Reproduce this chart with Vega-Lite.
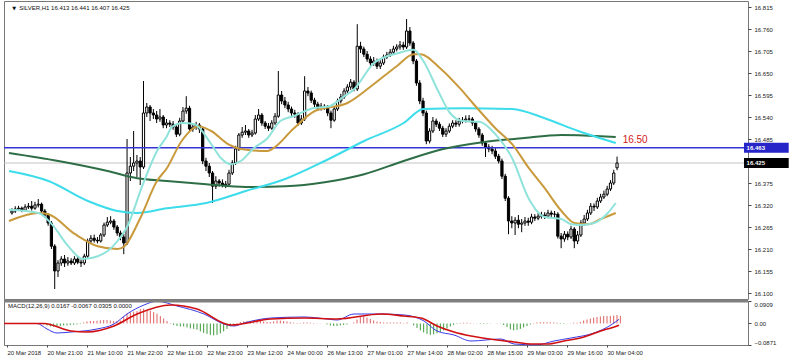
{
"$schema":"https://vega.github.io/schema/vega-lite/v6.json",
"padding":0,"background":"white","spacing":2,"bounds":"flush",
"resolve":{"scale":{"color":"independent","strokeWidth":"independent","x":"independent","y":"independent"}},
"config":{"view":{"stroke":"#777","strokeWidth":1},"font":"Liberation Sans",
"axis":{"labelFont":"Liberation Sans","labelFontSize":6,"labelColor":"#222","tickColor":"#444","grid":false,"domain":false,"labelOverlap":false}},
"datasets":{
"candles":[
{"i":0,"o":16.300,"h":16.312,"l":16.296,"c":16.305,"hist":0.002},
{"i":1,"o":16.305,"h":16.317,"l":16.300,"c":16.310,"hist":0.002},
{"i":2,"o":16.310,"h":16.318,"l":16.305,"c":16.312,"hist":0.002},
{"i":3,"o":16.312,"h":16.316,"l":16.302,"c":16.307,"hist":0.001},
{"i":4,"o":16.307,"h":16.322,"l":16.304,"c":16.315,"hist":0.002},
{"i":5,"o":16.315,"h":16.325,"l":16.310,"c":16.317,"hist":0.002},
{"i":6,"o":16.317,"h":16.330,"l":16.306,"c":16.312,"hist":0.001},
{"i":7,"o":16.312,"h":16.328,"l":16.308,"c":16.320,"hist":0.002},
{"i":8,"o":16.320,"h":16.335,"l":16.314,"c":16.322,"hist":0.002},
{"i":9,"o":16.322,"h":16.326,"l":16.300,"c":16.305,"hist":0.001},
{"i":10,"o":16.305,"h":16.310,"l":16.288,"c":16.295,"hist":-0.002},
{"i":11,"o":16.295,"h":16.300,"l":16.268,"c":16.275,"hist":-0.004},
{"i":12,"o":16.275,"h":16.280,"l":16.210,"c":16.217,"hist":-0.008},
{"i":13,"o":16.217,"h":16.222,"l":16.110,"c":16.155,"hist":-0.012},
{"i":14,"o":16.155,"h":16.182,"l":16.140,"c":16.175,"hist":-0.012},
{"i":15,"o":16.175,"h":16.192,"l":16.168,"c":16.185,"hist":-0.010},
{"i":16,"o":16.185,"h":16.195,"l":16.165,"c":16.175,"hist":-0.010},
{"i":17,"o":16.175,"h":16.190,"l":16.168,"c":16.180,"hist":-0.008},
{"i":18,"o":16.180,"h":16.187,"l":16.170,"c":16.175,"hist":-0.008},
{"i":19,"o":16.175,"h":16.192,"l":16.170,"c":16.185,"hist":-0.006},
{"i":20,"o":16.185,"h":16.190,"l":16.172,"c":16.177,"hist":-0.005},
{"i":21,"o":16.177,"h":16.184,"l":16.165,"c":16.175,"hist":-0.004},
{"i":22,"o":16.175,"h":16.198,"l":16.170,"c":16.192,"hist":-0.002},
{"i":23,"o":16.192,"h":16.236,"l":16.188,"c":16.230,"hist":0.004},
{"i":24,"o":16.230,"h":16.245,"l":16.225,"c":16.237,"hist":0.008},
{"i":25,"o":16.237,"h":16.246,"l":16.226,"c":16.232,"hist":0.010},
{"i":26,"o":16.232,"h":16.240,"l":16.224,"c":16.230,"hist":0.010},
{"i":27,"o":16.230,"h":16.250,"l":16.226,"c":16.245,"hist":0.011},
{"i":28,"o":16.245,"h":16.276,"l":16.240,"c":16.270,"hist":0.013},
{"i":29,"o":16.270,"h":16.290,"l":16.265,"c":16.277,"hist":0.014},
{"i":30,"o":16.277,"h":16.292,"l":16.272,"c":16.280,"hist":0.014},
{"i":31,"o":16.280,"h":16.285,"l":16.258,"c":16.265,"hist":0.012},
{"i":32,"o":16.265,"h":16.270,"l":16.243,"c":16.250,"hist":0.010},
{"i":33,"o":16.250,"h":16.256,"l":16.232,"c":16.240,"hist":0.010},
{"i":34,"o":16.240,"h":16.248,"l":16.197,"c":16.225,"hist":0.012},
{"i":35,"o":16.225,"h":16.485,"l":16.220,"c":16.400,"hist":0.030},
{"i":36,"o":16.400,"h":16.440,"l":16.380,"c":16.417,"hist":0.040},
{"i":37,"o":16.417,"h":16.505,"l":16.405,"c":16.425,"hist":0.045},
{"i":38,"o":16.425,"h":16.445,"l":16.390,"c":16.430,"hist":0.048},
{"i":39,"o":16.430,"h":16.440,"l":16.370,"c":16.415,"hist":0.050},
{"i":40,"o":16.415,"h":16.630,"l":16.410,"c":16.550,"hist":0.058},
{"i":41,"o":16.550,"h":16.575,"l":16.540,"c":16.565,"hist":0.060},
{"i":42,"o":16.565,"h":16.570,"l":16.530,"c":16.550,"hist":0.056},
{"i":43,"o":16.550,"h":16.560,"l":16.535,"c":16.545,"hist":0.052},
{"i":44,"o":16.545,"h":16.555,"l":16.525,"c":16.535,"hist":0.046},
{"i":45,"o":16.535,"h":16.560,"l":16.528,"c":16.540,"hist":0.040},
{"i":46,"o":16.540,"h":16.545,"l":16.512,"c":16.520,"hist":0.030},
{"i":47,"o":16.520,"h":16.535,"l":16.512,"c":16.525,"hist":0.020},
{"i":48,"o":16.525,"h":16.532,"l":16.515,"c":16.522,"hist":0.010},
{"i":49,"o":16.522,"h":16.530,"l":16.508,"c":16.515,"hist":0.002},
{"i":50,"o":16.515,"h":16.520,"l":16.490,"c":16.497,"hist":-0.006},
{"i":51,"o":16.497,"h":16.538,"l":16.492,"c":16.530,"hist":-0.010},
{"i":52,"o":16.530,"h":16.565,"l":16.525,"c":16.555,"hist":-0.012},
{"i":53,"o":16.555,"h":16.592,"l":16.548,"c":16.562,"hist":-0.012},
{"i":54,"o":16.562,"h":16.568,"l":16.505,"c":16.510,"hist":-0.016},
{"i":55,"o":16.510,"h":16.525,"l":16.503,"c":16.515,"hist":-0.020},
{"i":56,"o":16.515,"h":16.528,"l":16.508,"c":16.520,"hist":-0.022},
{"i":57,"o":16.520,"h":16.525,"l":16.500,"c":16.510,"hist":-0.025},
{"i":58,"o":16.510,"h":16.515,"l":16.422,"c":16.430,"hist":-0.032},
{"i":59,"o":16.430,"h":16.438,"l":16.405,"c":16.417,"hist":-0.038},
{"i":60,"o":16.417,"h":16.425,"l":16.390,"c":16.400,"hist":-0.042},
{"i":61,"o":16.400,"h":16.405,"l":16.325,"c":16.367,"hist":-0.046},
{"i":62,"o":16.367,"h":16.392,"l":16.360,"c":16.380,"hist":-0.048},
{"i":63,"o":16.380,"h":16.385,"l":16.366,"c":16.375,"hist":-0.046},
{"i":64,"o":16.375,"h":16.384,"l":16.364,"c":16.370,"hist":-0.040},
{"i":65,"o":16.370,"h":16.380,"l":16.362,"c":16.372,"hist":-0.032},
{"i":66,"o":16.372,"h":16.408,"l":16.368,"c":16.400,"hist":-0.022},
{"i":67,"o":16.400,"h":16.432,"l":16.395,"c":16.425,"hist":-0.012},
{"i":68,"o":16.425,"h":16.468,"l":16.420,"c":16.460,"hist":-0.004},
{"i":69,"o":16.460,"h":16.500,"l":16.455,"c":16.495,"hist":0.002},
{"i":70,"o":16.495,"h":16.515,"l":16.488,"c":16.502,"hist":0.006},
{"i":71,"o":16.502,"h":16.520,"l":16.495,"c":16.505,"hist":0.008},
{"i":72,"o":16.505,"h":16.510,"l":16.488,"c":16.495,"hist":0.010},
{"i":73,"o":16.495,"h":16.508,"l":16.490,"c":16.500,"hist":0.010},
{"i":74,"o":16.500,"h":16.545,"l":16.496,"c":16.535,"hist":0.012},
{"i":75,"o":16.535,"h":16.560,"l":16.530,"c":16.545,"hist":0.012},
{"i":76,"o":16.545,"h":16.550,"l":16.518,"c":16.525,"hist":0.010},
{"i":77,"o":16.525,"h":16.530,"l":16.510,"c":16.517,"hist":0.008},
{"i":78,"o":16.517,"h":16.525,"l":16.505,"c":16.512,"hist":0.006},
{"i":79,"o":16.512,"h":16.532,"l":16.508,"c":16.525,"hist":0.006},
{"i":80,"o":16.525,"h":16.550,"l":16.520,"c":16.542,"hist":0.008},
{"i":81,"o":16.542,"h":16.655,"l":16.538,"c":16.595,"hist":0.012},
{"i":82,"o":16.595,"h":16.605,"l":16.572,"c":16.580,"hist":0.012},
{"i":83,"o":16.580,"h":16.590,"l":16.562,"c":16.570,"hist":0.010},
{"i":84,"o":16.570,"h":16.578,"l":16.552,"c":16.560,"hist":0.008},
{"i":85,"o":16.560,"h":16.566,"l":16.542,"c":16.550,"hist":0.005},
{"i":86,"o":16.550,"h":16.558,"l":16.538,"c":16.547,"hist":0.003},
{"i":87,"o":16.547,"h":16.552,"l":16.518,"c":16.525,"hist":0.002},
{"i":88,"o":16.525,"h":16.545,"l":16.520,"c":16.535,"hist":0.002},
{"i":89,"o":16.535,"h":16.642,"l":16.530,"c":16.605,"hist":0.004},
{"i":90,"o":16.605,"h":16.615,"l":16.592,"c":16.600,"hist":0.004},
{"i":91,"o":16.600,"h":16.606,"l":16.575,"c":16.582,"hist":0.003},
{"i":92,"o":16.582,"h":16.588,"l":16.565,"c":16.572,"hist":0.002},
{"i":93,"o":16.572,"h":16.578,"l":16.555,"c":16.562,"hist":0.001},
{"i":94,"o":16.562,"h":16.575,"l":16.556,"c":16.567,"hist":0.001},
{"i":95,"o":16.567,"h":16.572,"l":16.558,"c":16.565,"hist":0.000},
{"i":96,"o":16.565,"h":16.570,"l":16.542,"c":16.550,"hist":-0.004},
{"i":97,"o":16.550,"h":16.556,"l":16.512,"c":16.532,"hist":-0.008},
{"i":98,"o":16.532,"h":16.566,"l":16.528,"c":16.560,"hist":-0.010},
{"i":99,"o":16.560,"h":16.586,"l":16.555,"c":16.580,"hist":-0.010},
{"i":100,"o":16.580,"h":16.598,"l":16.574,"c":16.590,"hist":-0.008},
{"i":101,"o":16.590,"h":16.612,"l":16.585,"c":16.605,"hist":-0.006},
{"i":102,"o":16.605,"h":16.622,"l":16.598,"c":16.615,"hist":-0.004},
{"i":103,"o":16.615,"h":16.635,"l":16.608,"c":16.627,"hist":0.000},
{"i":104,"o":16.627,"h":16.632,"l":16.604,"c":16.610,"hist":0.004},
{"i":105,"o":16.610,"h":16.772,"l":16.605,"c":16.717,"hist":0.016},
{"i":106,"o":16.717,"h":16.728,"l":16.700,"c":16.710,"hist":0.026},
{"i":107,"o":16.710,"h":16.716,"l":16.690,"c":16.697,"hist":0.028},
{"i":108,"o":16.697,"h":16.705,"l":16.678,"c":16.685,"hist":0.024},
{"i":109,"o":16.685,"h":16.692,"l":16.668,"c":16.675,"hist":0.018},
{"i":110,"o":16.675,"h":16.690,"l":16.668,"c":16.680,"hist":0.012},
{"i":111,"o":16.680,"h":16.686,"l":16.660,"c":16.667,"hist":0.008},
{"i":112,"o":16.667,"h":16.682,"l":16.660,"c":16.675,"hist":0.006},
{"i":113,"o":16.675,"h":16.696,"l":16.670,"c":16.690,"hist":0.004},
{"i":114,"o":16.690,"h":16.703,"l":16.685,"c":16.695,"hist":0.004},
{"i":115,"o":16.695,"h":16.710,"l":16.690,"c":16.702,"hist":0.004},
{"i":116,"o":16.702,"h":16.718,"l":16.697,"c":16.710,"hist":0.004},
{"i":117,"o":16.710,"h":16.722,"l":16.704,"c":16.715,"hist":0.004},
{"i":118,"o":16.715,"h":16.730,"l":16.708,"c":16.720,"hist":0.004},
{"i":119,"o":16.720,"h":16.728,"l":16.708,"c":16.715,"hist":0.002},
{"i":120,"o":16.715,"h":16.785,"l":16.710,"c":16.755,"hist":0.004},
{"i":121,"o":16.755,"h":16.765,"l":16.718,"c":16.725,"hist":0.000},
{"i":122,"o":16.725,"h":16.730,"l":16.672,"c":16.680,"hist":-0.008},
{"i":123,"o":16.680,"h":16.685,"l":16.618,"c":16.625,"hist":-0.018},
{"i":124,"o":16.625,"h":16.632,"l":16.572,"c":16.580,"hist":-0.028},
{"i":125,"o":16.580,"h":16.588,"l":16.542,"c":16.550,"hist":-0.036},
{"i":126,"o":16.550,"h":16.556,"l":16.472,"c":16.480,"hist":-0.042},
{"i":127,"o":16.480,"h":16.512,"l":16.474,"c":16.505,"hist":-0.046},
{"i":128,"o":16.505,"h":16.540,"l":16.500,"c":16.530,"hist":-0.044},
{"i":129,"o":16.530,"h":16.536,"l":16.515,"c":16.522,"hist":-0.040},
{"i":130,"o":16.522,"h":16.528,"l":16.505,"c":16.512,"hist":-0.034},
{"i":131,"o":16.512,"h":16.518,"l":16.490,"c":16.497,"hist":-0.028},
{"i":132,"o":16.497,"h":16.512,"l":16.490,"c":16.505,"hist":-0.020},
{"i":133,"o":16.505,"h":16.524,"l":16.500,"c":16.517,"hist":-0.012},
{"i":134,"o":16.517,"h":16.532,"l":16.512,"c":16.525,"hist":-0.006},
{"i":135,"o":16.525,"h":16.532,"l":16.515,"c":16.522,"hist":-0.002},
{"i":136,"o":16.522,"h":16.538,"l":16.516,"c":16.530,"hist":0.002},
{"i":137,"o":16.530,"h":16.540,"l":16.524,"c":16.532,"hist":0.003},
{"i":138,"o":16.532,"h":16.544,"l":16.526,"c":16.535,"hist":0.003},
{"i":139,"o":16.535,"h":16.545,"l":16.527,"c":16.535,"hist":0.002},
{"i":140,"o":16.535,"h":16.540,"l":16.518,"c":16.525,"hist":0.001},
{"i":141,"o":16.525,"h":16.530,"l":16.503,"c":16.510,"hist":-0.001},
{"i":142,"o":16.510,"h":16.515,"l":16.488,"c":16.495,"hist":-0.002},
{"i":143,"o":16.495,"h":16.500,"l":16.468,"c":16.475,"hist":-0.002},
{"i":144,"o":16.475,"h":16.480,"l":16.440,"c":16.465,"hist":-0.002},
{"i":145,"o":16.465,"h":16.472,"l":16.452,"c":16.460,"hist":-0.001},
{"i":146,"o":16.460,"h":16.468,"l":16.447,"c":16.455,"hist":0.000},
{"i":147,"o":16.455,"h":16.462,"l":16.435,"c":16.442,"hist":0.001},
{"i":148,"o":16.442,"h":16.448,"l":16.424,"c":16.430,"hist":-0.001},
{"i":149,"o":16.430,"h":16.436,"l":16.385,"c":16.392,"hist":-0.006},
{"i":150,"o":16.392,"h":16.398,"l":16.330,"c":16.337,"hist":-0.014},
{"i":151,"o":16.337,"h":16.342,"l":16.247,"c":16.280,"hist":-0.024},
{"i":152,"o":16.280,"h":16.292,"l":16.262,"c":16.275,"hist":-0.028},
{"i":153,"o":16.275,"h":16.290,"l":16.245,"c":16.282,"hist":-0.026},
{"i":154,"o":16.282,"h":16.295,"l":16.262,"c":16.272,"hist":-0.022},
{"i":155,"o":16.272,"h":16.285,"l":16.252,"c":16.275,"hist":-0.016},
{"i":156,"o":16.275,"h":16.290,"l":16.268,"c":16.280,"hist":-0.010},
{"i":157,"o":16.280,"h":16.288,"l":16.268,"c":16.277,"hist":-0.004},
{"i":158,"o":16.277,"h":16.298,"l":16.272,"c":16.290,"hist":0.002},
{"i":159,"o":16.290,"h":16.297,"l":16.280,"c":16.287,"hist":0.004},
{"i":160,"o":16.287,"h":16.300,"l":16.282,"c":16.292,"hist":0.005},
{"i":161,"o":16.292,"h":16.303,"l":16.286,"c":16.295,"hist":0.005},
{"i":162,"o":16.295,"h":16.302,"l":16.285,"c":16.292,"hist":0.005},
{"i":163,"o":16.292,"h":16.308,"l":16.287,"c":16.300,"hist":0.005},
{"i":164,"o":16.300,"h":16.306,"l":16.290,"c":16.297,"hist":0.004},
{"i":165,"o":16.297,"h":16.305,"l":16.288,"c":16.297,"hist":0.003},
{"i":166,"o":16.297,"h":16.302,"l":16.236,"c":16.242,"hist":-0.002},
{"i":167,"o":16.242,"h":16.250,"l":16.212,"c":16.235,"hist":-0.002},
{"i":168,"o":16.235,"h":16.255,"l":16.228,"c":16.247,"hist":0.000},
{"i":169,"o":16.247,"h":16.254,"l":16.232,"c":16.240,"hist":0.001},
{"i":170,"o":16.240,"h":16.268,"l":16.235,"c":16.260,"hist":0.003},
{"i":171,"o":16.260,"h":16.265,"l":16.212,"c":16.230,"hist":0.003},
{"i":172,"o":16.230,"h":16.255,"l":16.222,"c":16.245,"hist":0.006},
{"i":173,"o":16.245,"h":16.282,"l":16.240,"c":16.275,"hist":0.012},
{"i":174,"o":16.275,"h":16.295,"l":16.268,"c":16.285,"hist":0.016},
{"i":175,"o":16.285,"h":16.308,"l":16.280,"c":16.300,"hist":0.020},
{"i":176,"o":16.300,"h":16.325,"l":16.295,"c":16.317,"hist":0.024},
{"i":177,"o":16.317,"h":16.324,"l":16.305,"c":16.315,"hist":0.026},
{"i":178,"o":16.315,"h":16.338,"l":16.310,"c":16.330,"hist":0.028},
{"i":179,"o":16.330,"h":16.348,"l":16.325,"c":16.340,"hist":0.030},
{"i":180,"o":16.340,"h":16.356,"l":16.335,"c":16.347,"hist":0.030},
{"i":181,"o":16.347,"h":16.368,"l":16.342,"c":16.360,"hist":0.030},
{"i":182,"o":16.360,"h":16.382,"l":16.355,"c":16.375,"hist":0.032},
{"i":183,"o":16.375,"h":16.408,"l":16.370,"c":16.400,"hist":0.034},
{"i":184,"o":16.413,"h":16.441,"l":16.407,"c":16.425,"hist":0.0305}
],
"mas":[
{"s":"ma200","i":-0.9,"v":16.450},{"s":"ma200","i":14.1,"v":16.430},{"s":"ma200","i":29.1,"v":16.405},{"s":"ma200","i":38.1,"v":16.387},{"s":"ma200","i":47.1,"v":16.380},{"s":"ma200","i":59.1,"v":16.372},{"s":"ma200","i":71.1,"v":16.365},{"s":"ma200","i":83.1,"v":16.367},{"s":"ma200","i":95.1,"v":16.377},{"s":"ma200","i":107.1,"v":16.397},{"s":"ma200","i":119.1,"v":16.430},{"s":"ma200","i":131.1,"v":16.460},{"s":"ma200","i":143.1,"v":16.477},{"s":"ma200","i":155.1,"v":16.487},{"s":"ma200","i":167.1,"v":16.495},{"s":"ma200","i":179.1,"v":16.492},{"s":"ma200","i":183.6,"v":16.490},
{"s":"ma100","i":-0.9,"v":16.405},{"s":"ma100","i":11.1,"v":16.380},{"s":"ma100","i":23.1,"v":16.330},{"s":"ma100","i":32.1,"v":16.305},{"s":"ma100","i":38.1,"v":16.300},{"s":"ma100","i":47.1,"v":16.312},{"s":"ma100","i":59.1,"v":16.325},{"s":"ma100","i":71.1,"v":16.355},{"s":"ma100","i":83.1,"v":16.385},{"s":"ma100","i":95.1,"v":16.430},{"s":"ma100","i":107.1,"v":16.480},{"s":"ma100","i":119.1,"v":16.525},{"s":"ma100","i":125.1,"v":16.560},{"s":"ma100","i":137.1,"v":16.562},{"s":"ma100","i":152.1,"v":16.560},{"s":"ma100","i":162.0,"v":16.537},{"s":"ma100","i":172.2,"v":16.505},{"s":"ma100","i":183.6,"v":16.475},
{"s":"mid","i":-0.9,"v":16.280},{"s":"mid","i":8.1,"v":16.300},{"s":"mid","i":11.1,"v":16.297},{"s":"mid","i":19.2,"v":16.247},{"s":"mid","i":26.1,"v":16.217},{"s":"mid","i":32.1,"v":16.210},{"s":"mid","i":34.2,"v":16.217},{"s":"mid","i":39.0,"v":16.287},{"s":"mid","i":44.1,"v":16.380},{"s":"mid","i":47.1,"v":16.412},{"s":"mid","i":51.6,"v":16.480},{"s":"mid","i":56.7,"v":16.517},{"s":"mid","i":60.6,"v":16.505},{"s":"mid","i":65.7,"v":16.472},{"s":"mid","i":69.6,"v":16.460},{"s":"mid","i":77.7,"v":16.455},{"s":"mid","i":79.5,"v":16.462},{"s":"mid","i":85.5,"v":16.510},{"s":"mid","i":92.1,"v":16.555},{"s":"mid","i":102.0,"v":16.575},{"s":"mid","i":109.2,"v":16.617},{"s":"mid","i":117.0,"v":16.667},{"s":"mid","i":122.1,"v":16.697},{"s":"mid","i":124.2,"v":16.697},{"s":"mid","i":130.2,"v":16.662},{"s":"mid","i":136.2,"v":16.612},{"s":"mid","i":140.1,"v":16.575},{"s":"mid","i":147.0,"v":16.512},{"s":"mid","i":152.1,"v":16.472},{"s":"mid","i":157.2,"v":16.412},{"s":"mid","i":162.0,"v":16.362},{"s":"mid","i":167.1,"v":16.305},{"s":"mid","i":171.0,"v":16.275},{"s":"mid","i":175.2,"v":16.272},{"s":"mid","i":179.1,"v":16.285},{"s":"mid","i":183.6,"v":16.300},
{"s":"fast","i":-0.9,"v":16.308},{"s":"fast","i":8.1,"v":16.300},{"s":"fast","i":12.6,"v":16.267},{"s":"fast","i":17.1,"v":16.217},{"s":"fast","i":21.6,"v":16.185},{"s":"fast","i":26.1,"v":16.192},{"s":"fast","i":29.1,"v":16.205},{"s":"fast","i":32.1,"v":16.230},{"s":"fast","i":35.1,"v":16.267},{"s":"fast","i":39.6,"v":16.367},{"s":"fast","i":44.1,"v":16.455},{"s":"fast","i":47.1,"v":16.492},{"s":"fast","i":48.6,"v":16.515},{"s":"fast","i":52.0,"v":16.525},{"s":"fast","i":55.5,"v":16.522},{"s":"fast","i":60.6,"v":16.472},{"s":"fast","i":63.6,"v":16.437},{"s":"fast","i":66.6,"v":16.422},{"s":"fast","i":69.6,"v":16.430},{"s":"fast","i":73.5,"v":16.462},{"s":"fast","i":77.7,"v":16.487},{"s":"fast","i":81.6,"v":16.530},{"s":"fast","i":85.5,"v":16.542},{"s":"fast","i":91.5,"v":16.562},{"s":"fast","i":96.6,"v":16.567},{"s":"fast","i":100.2,"v":16.587},{"s":"fast","i":104.1,"v":16.610},{"s":"fast","i":110.1,"v":16.675},{"s":"fast","i":117.6,"v":16.700},{"s":"fast","i":122.1,"v":16.708},{"s":"fast","i":125.1,"v":16.680},{"s":"fast","i":129.6,"v":16.605},{"s":"fast","i":133.2,"v":16.550},{"s":"fast","i":137.1,"v":16.530},{"s":"fast","i":142.2,"v":16.528},{"s":"fast","i":147.0,"v":16.497},{"s":"fast","i":152.1,"v":16.437},{"s":"fast","i":157.2,"v":16.335},{"s":"fast","i":162.0,"v":16.290},{"s":"fast","i":167.1,"v":16.285},{"s":"fast","i":170.1,"v":16.272},{"s":"fast","i":173.1,"v":16.270},{"s":"fast","i":177.0,"v":16.275},{"s":"fast","i":181.2,"v":16.300},{"s":"fast","i":183.6,"v":16.325}
],
"macd":[
{"s":"main","i":-0.9,"v":0.000},{"s":"main","i":9.0,"v":0.000},{"s":"main","i":12.0,"v":-0.0224},{"s":"main","i":15.0,"v":-0.0385},{"s":"main","i":19.2,"v":-0.0345},{"s":"main","i":27.0,"v":-0.0224},{"s":"main","i":32.1,"v":-0.0021},{"s":"main","i":36.0,"v":0.0383},{"s":"main","i":41.1,"v":0.0747},{"s":"main","i":45.0,"v":0.0900},{"s":"main","i":51.0,"v":0.0707},{"s":"main","i":59.1,"v":0.0383},{"s":"main","i":65.1,"v":-0.0021},{"s":"main","i":68.1,"v":-0.0102},{"s":"main","i":71.1,"v":0.0019},{"s":"main","i":79.2,"v":0.0221},{"s":"main","i":89.1,"v":0.0262},{"s":"main","i":96.0,"v":0.0181},{"s":"main","i":99.0,"v":0.0140},{"s":"main","i":104.1,"v":0.0383},{"s":"main","i":112.2,"v":0.0383},{"s":"main","i":119.1,"v":0.0343},{"s":"main","i":125.1,"v":0.0100},{"s":"main","i":129.0,"v":-0.0305},{"s":"main","i":134.1,"v":-0.0466},{"s":"main","i":139.2,"v":-0.0709},{"s":"main","i":148.2,"v":-0.0628},{"s":"main","i":152.1,"v":-0.0831},{"s":"main","i":159.0,"v":-0.0865},{"s":"main","i":164.1,"v":-0.0709},{"s":"main","i":169.2,"v":-0.0588},{"s":"main","i":176.1,"v":-0.0385},{"s":"main","i":181.2,"v":-0.0062},{"s":"main","i":183.6,"v":0.0167},
{"s":"signal","i":-0.9,"v":0.000},{"s":"signal","i":11.1,"v":0.000},{"s":"signal","i":19.2,"v":-0.0305},{"s":"signal","i":24.0,"v":-0.0345},{"s":"signal","i":32.1,"v":-0.0102},{"s":"signal","i":39.0,"v":0.0383},{"s":"signal","i":49.2,"v":0.0750},{"s":"signal","i":57.0,"v":0.0585},{"s":"signal","i":67.2,"v":-0.0062},{"s":"signal","i":79.2,"v":0.0181},{"s":"signal","i":89.1,"v":0.0221},{"s":"signal","i":99.0,"v":0.0181},{"s":"signal","i":112.2,"v":0.0383},{"s":"signal","i":119.1,"v":0.0302},{"s":"signal","i":124.2,"v":0.0221},{"s":"signal","i":129.0,"v":-0.0100},{"s":"signal","i":134.1,"v":-0.0345},{"s":"signal","i":139.2,"v":-0.0507},{"s":"signal","i":147.0,"v":-0.0669},{"s":"signal","i":152.1,"v":-0.0750},{"s":"signal","i":157.2,"v":-0.0831},{"s":"signal","i":162.0,"v":-0.0831},{"s":"signal","i":167.1,"v":-0.0709},{"s":"signal","i":173.1,"v":-0.0548},{"s":"signal","i":179.1,"v":-0.0260},{"s":"signal","i":181.2,"v":-0.0183},{"s":"signal","i":183.6,"v":-0.0067}
]
},
"vconcat":[
{"width":744,"height":298,
"layer":[
{"data":{"values":[{"p":16.425}]},"mark":{"type":"rule","color":"#c4c4c4","strokeWidth":1},
 "encoding":{"y":{"field":"p","type":"quantitative","scale":{"domain":[16.085,16.83],"zero":false,"nice":false},
  "axis":{"orient":"right","title":null,"values":[16.1,16.155,16.21,16.265,16.32,16.375,16.485,16.54,16.595,16.65,16.705,16.76,16.815],"tickCount":40,"format":".3f","tickSize":3,"labelPadding":3,"labelOverlap":false,"labelBound":false}}}},
{"data":{"name":"candles"},"mark":{"type":"rule","color":"#000","strokeWidth":1},
 "encoding":{"x":{"field":"i","type":"quantitative","scale":{"domain":[-0.9,222.3],"zero":false,"nice":false},"axis":null},
  "y":{"field":"l","type":"quantitative"},"y2":{"field":"h"}}},
{"data":{"name":"candles"},"mark":{"type":"bar","size":2.2,"stroke":"#000","strokeWidth":1},
 "encoding":{"x":{"field":"i","type":"quantitative","axis":null},"y":{"field":"o","type":"quantitative"},"y2":{"field":"c"},
  "fill":{"condition":{"test":"datum.c >= datum.o","value":"#ffffff"},"value":"#000000"}}},
{"data":{"values":[{"p":16.463}]},"mark":{"type":"rule","color":"#3434d6","strokeWidth":1.5},
 "encoding":{"y":{"field":"p","type":"quantitative"}}},
{"data":{"name":"mas"},"mark":{"type":"line","interpolate":"monotone"},
 "encoding":{"x":{"field":"i","type":"quantitative","axis":null},"y":{"field":"v","type":"quantitative"},
  "color":{"field":"s","type":"nominal","scale":{"domain":["ma200","ma100","mid","fast"],"range":["#2e6e46","#3cdcea","#c99a3c","#8fe3da"]},"legend":null},
  "strokeWidth":{"field":"s","type":"nominal","scale":{"domain":["ma200","ma100","mid","fast"],"range":[2,2,1.2,1]},"legend":null}}},
{"data":{"values":[{"p":16.463,"t":"16.463"}]},"mark":{"type":"rect","color":"#2525c8","yOffset":-5,"y2Offset":5,"clip":false},
 "encoding":{"x":{"datum":222.6,"axis":null},"x2":{"datum":236.2},"y":{"field":"p","type":"quantitative"},"y2":{"field":"p"}}},
{"data":{"values":[{"p":16.425,"t":"16.425"}]},"mark":{"type":"rect","color":"#000000","yOffset":-5,"y2Offset":5,"clip":false},
 "encoding":{"x":{"datum":222.6,"axis":null},"x2":{"datum":236.2},"y":{"field":"p","type":"quantitative"},"y2":{"field":"p"}}},
{"data":{"values":[{"p":16.463,"t":"16.463"},{"p":16.425,"t":"16.425"}]},"mark":{"type":"text","color":"#ffffff","align":"left","baseline":"middle","fontSize":6,"fontWeight":"bold","font":"Liberation Sans"},
 "encoding":{"x":{"datum":223.4,"axis":null},"y":{"field":"p","type":"quantitative"},"text":{"field":"t"}}},
{"data":{"values":[{"i":185.7,"p":16.483,"t":"16.50"}]},"mark":{"type":"text","color":"#d42020","align":"left","baseline":"middle","fontSize":10,"font":"Liberation Sans"},
 "encoding":{"x":{"field":"i","type":"quantitative","axis":null},"y":{"field":"p","type":"quantitative"},"text":{"field":"t"}}},
{"data":{"values":[{"i":2.2,"p":16.8125,"t":"SILVER,H1  16.413 16.441 16.407 16.425"}]},"mark":{"type":"text","color":"#111","align":"left","baseline":"middle","fontSize":6,"font":"Liberation Sans"},
 "encoding":{"x":{"field":"i","type":"quantitative","axis":null},"y":{"field":"p","type":"quantitative"},"text":{"field":"t"}}},
{"data":{"values":[{"i":0.1,"p":16.8125,"t":"▼"}]},"mark":{"type":"text","color":"#111","align":"left","baseline":"middle","fontSize":5,"font":"DejaVu Sans"},
 "encoding":{"x":{"field":"i","type":"quantitative","axis":null},"y":{"field":"p","type":"quantitative"},"text":{"field":"t"}}}
]},
{"width":744,"height":44,
"layer":[
{"data":{"name":"candles"},"mark":{"type":"rule","strokeWidth":1},
 "encoding":{"x":{"field":"i","type":"quantitative","scale":{"domain":[-0.9,222.3],"zero":false,"nice":false},
   "axis":{"title":null,"values":[0,12,24,36,48,60,72,84,96,108,120,132,144,156,168,180],"tickCount":40,
    "labelExpr":"['20 Mar 2018','20 Mar 21:00','21 Mar 10:00','21 Mar 22:00','22 Mar 11:00','22 Mar 23:00','23 Mar 12:00','24 Mar 00:00','26 Mar 13:00','27 Mar 01:00','27 Mar 14:00','28 Mar 02:00','28 Mar 15:00','29 Mar 03:00','29 Mar 16:00','30 Mar 04:00'][round(datum.value/12)]",
    "labelAlign":"left","tickSize":2,"labelPadding":2,"labelFlush":false,"labelOverlap":false,"labelBound":false}},
  "y":{"field":"hist","type":"quantitative","scale":{"domain":[-0.0871,0.0909],"zero":false,"nice":false},
   "axis":{"orient":"right","title":null,"values":[-0.0871,0,0.0909],"tickCount":10,"labelExpr":"datum.value == 0 ? '0.00' : format(datum.value, '.4f')","labelFlush":true,"tickSize":3,"labelPadding":3,"labelOverlap":false}},
  "y2":{"datum":0},
  "color":{"condition":{"test":"datum.hist >= 0","value":"#e06060"},"value":"#3a9a3a"}}},
{"data":{"name":"macd"},"mark":{"type":"line","interpolate":"monotone"},
 "encoding":{"x":{"field":"i","type":"quantitative"},"y":{"field":"v","type":"quantitative"},
  "color":{"field":"s","type":"nominal","scale":{"domain":["main","signal"],"range":["#3a3ae8","#d01010"]},"legend":null},
  "strokeWidth":{"field":"s","type":"nominal","scale":{"domain":["main","signal"],"range":[1,1.6]},"legend":null}}},
{"data":{"values":[{"v":0.0909}]},"mark":{"type":"rule","color":"#808080","strokeWidth":3},
 "encoding":{"y":{"field":"v","type":"quantitative"}}},
{"data":{"values":[{"i":0.3,"v":0.070,"t":"MACD(12,26,9) 0.0167 -0.0067 0.0305 0.0000"}]},"mark":{"type":"text","color":"#111","align":"left","baseline":"middle","fontSize":6,"font":"Liberation Sans"},
 "encoding":{"x":{"field":"i","type":"quantitative"},"y":{"field":"v","type":"quantitative"},"text":{"field":"t"}}}
]}
]
}
